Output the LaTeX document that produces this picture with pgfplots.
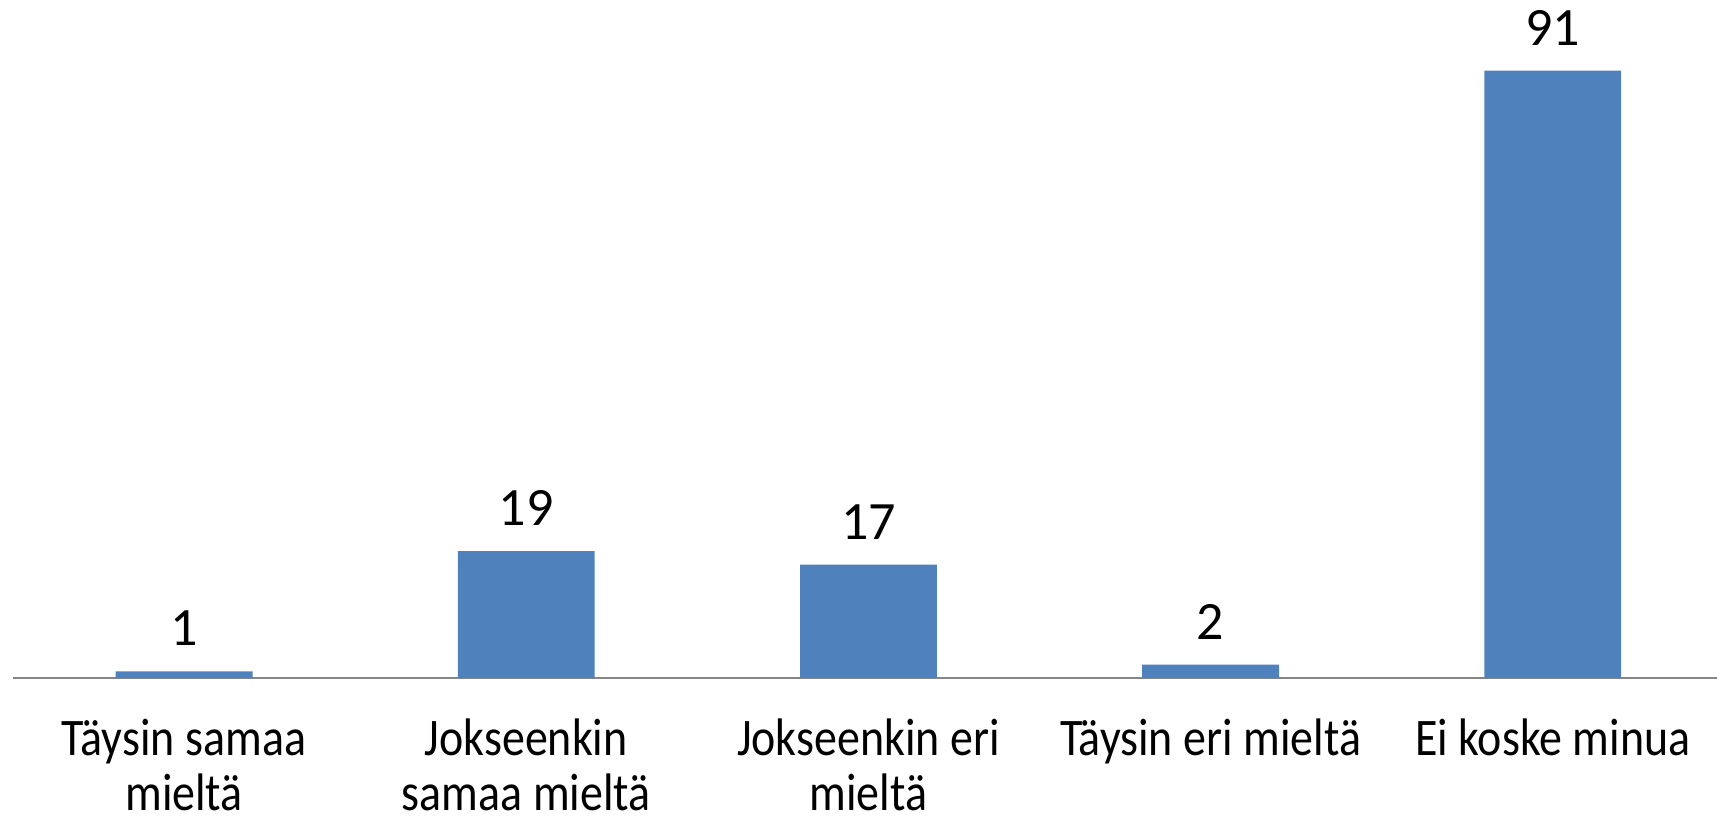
\documentclass[border=0pt]{standalone}
\usepackage{pgfplots}
\pgfplotsset{compat=1.18}
\usepackage{fontspec}
\setmainfont{Carlito}
\newfontfamily\tickfont[FakeStretch=0.87]{Carlito}
\definecolor{barblue}{HTML}{4F81BD}
\definecolor{axisgray}{HTML}{868686}
\begin{document}
\begin{tikzpicture}
\begin{axis}[
  scale only axis,
  width=852pt, height=339pt,
  xmin=-0.5, xmax=4.48,
  ymin=0, ymax=101.6,
  axis x line*=bottom,
  axis y line=none,
  x axis line style={axisgray, line width=1pt, -},
  /pgf/number format/assume math mode=true,
  xtick={0,1,2,3,4},
  xticklabels={{Täysin samaa\\mieltä},{Jokseenkin\\samaa mieltä},{Jokseenkin eri\\mieltä},{Täysin eri mieltä},{Ei koske minua}},
  major tick length=0pt,
  xticklabel style={anchor=base, yshift=-38.5pt, inner sep=0pt, text width=200pt,
    font=\tickfont\fontsize{26.4}{27.5}\selectfont,
    execute at begin node={\centering\spaceskip=0.2em\relax}},
  ybar, bar width=0.4, bar shift=0pt,
  nodes near coords,
  nodes near coords style={anchor=south, inner sep=0pt, yshift=12.5pt, font=\fontsize{27}{32}\selectfont, black},
  clip=false,
]
\addplot[fill=barblue, draw=none] coordinates {(0,1) (1,19) (2,17) (3,2) (4,91)};
\coordinate (sw) at (rel axis cs:0,0);
\coordinate (ne) at (rel axis cs:1,1);
\end{axis}
\pgfresetboundingbox
\path ([shift={(-6.5pt,-70.5pt)}]sw) rectangle (ne);
\end{tikzpicture}
\end{document}
